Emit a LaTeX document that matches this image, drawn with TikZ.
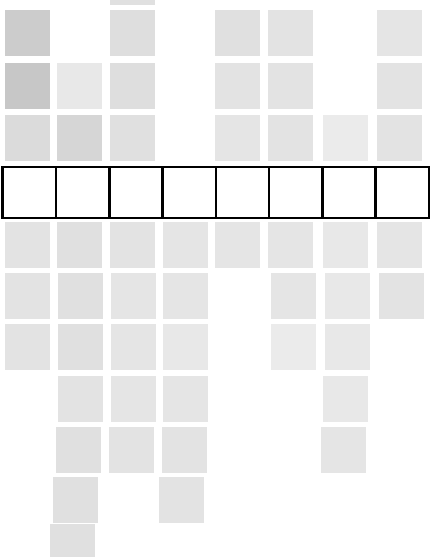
\documentclass[tikz,border=0pt]{standalone}
\begin{document}
\begin{tikzpicture}[x=1pt,y=-1pt,
  gsq/.style={fill=#1, draw=none, minimum width=45pt, minimum height=46pt, inner sep=0pt, anchor=north west},
  gsq/.default={black!11},
  cell/.style={draw=black, line width=2.6pt, fill=white, minimum width=53.3pt, minimum height=51pt, inner sep=0pt, anchor=north west}]
\clip (0,0) rectangle (435,557);
\fill[white] (0,0) rectangle (435,557);
% top partial
\node[gsq=black!12] (t3) at (110,-41) {};
% row A
\node[gsq=black!20] (a1) at (5,10) {};
\node[gsq=black!13] (a3) at (110,10) {};
\node[gsq=black!12] (a5) at (215,10) {};
\node[gsq=black!11] (a6) at (268,10) {};
\node[gsq=black!10] (a8) at (377,10) {};
% row B
\node[gsq=black!22] (b1) at (5,63) {};
\node[gsq=black!9] (b2) at (57,63) {};
\node[gsq=black!13] (b3) at (110,63) {};
\node[gsq=black!11] (b5) at (215,63) {};
\node[gsq=black!11] (b6) at (268,63) {};
\node[gsq=black!11] (b8) at (377,63) {};
% row C
\node[gsq=black!14] (c1) at (5,115) {};
\node[gsq=black!16] (c2) at (57,115) {};
\node[gsq=black!12] (c3) at (110,115) {};
\node[gsq=black!10] (c5) at (215,115) {};
\node[gsq=black!11] (c6) at (268,115) {};
\node[gsq=black!8] (c7) at (323,115) {};
\node[gsq=black!11] (c8) at (377,115) {};
% boxes
\foreach \i in {1,...,8}{
  \node[cell] (box\i) at ({1.3+53.3*(\i-1)},165.5) {};
}
% row D
\node[gsq=black!11] (d1) at (5,222) {};
\node[gsq=black!12] (d2) at (57,222) {};
\node[gsq=black!11] (d3) at (110,222) {};
\node[gsq=black!10] (d4) at (163,222) {};
\node[gsq=black!10] (d5) at (215,222) {};
\node[gsq=black!10] (d6) at (268,222) {};
\node[gsq=black!9] (d7) at (323,222) {};
\node[gsq=black!10] (d8) at (377,222) {};
% row E
\node[gsq=black!11] (e1) at (5,273) {};
\node[gsq=black!12] (e2) at (58,273) {};
\node[gsq=black!10] (e3) at (111,273) {};
\node[gsq=black!10] (e4) at (163,273) {};
\node[gsq=black!10] (e6) at (271,273) {};
\node[gsq=black!9] (e7) at (325,273) {};
\node[gsq=black!11] (e8) at (379,273) {};
% row F
\node[gsq=black!11] (f1) at (5,324) {};
\node[gsq=black!12] (f2) at (58,324) {};
\node[gsq=black!10] (f3) at (111,324) {};
\node[gsq=black!9] (f4) at (163,324) {};
\node[gsq=black!8] (f6) at (271,324) {};
\node[gsq=black!9] (f7) at (325,324) {};
% row G
\node[gsq=black!11] (g2) at (58,376) {};
\node[gsq=black!10] (g3) at (111,376) {};
\node[gsq=black!10] (g4) at (163,376) {};
\node[gsq=black!9] (g7) at (323,376) {};
% row H
\node[gsq=black!12] (h2) at (56,427) {};
\node[gsq=black!11] (h3) at (109,427) {};
\node[gsq=black!11] (h4) at (162,427) {};
\node[gsq=black!10] (h7) at (321,427) {};
% row I
\node[gsq=black!12] (i2) at (53,477) {};
\node[gsq=black!11] (i4) at (159,477) {};
% row J
\node[gsq=black!12] (j2) at (50,524) {};
\end{tikzpicture}
\end{document}
